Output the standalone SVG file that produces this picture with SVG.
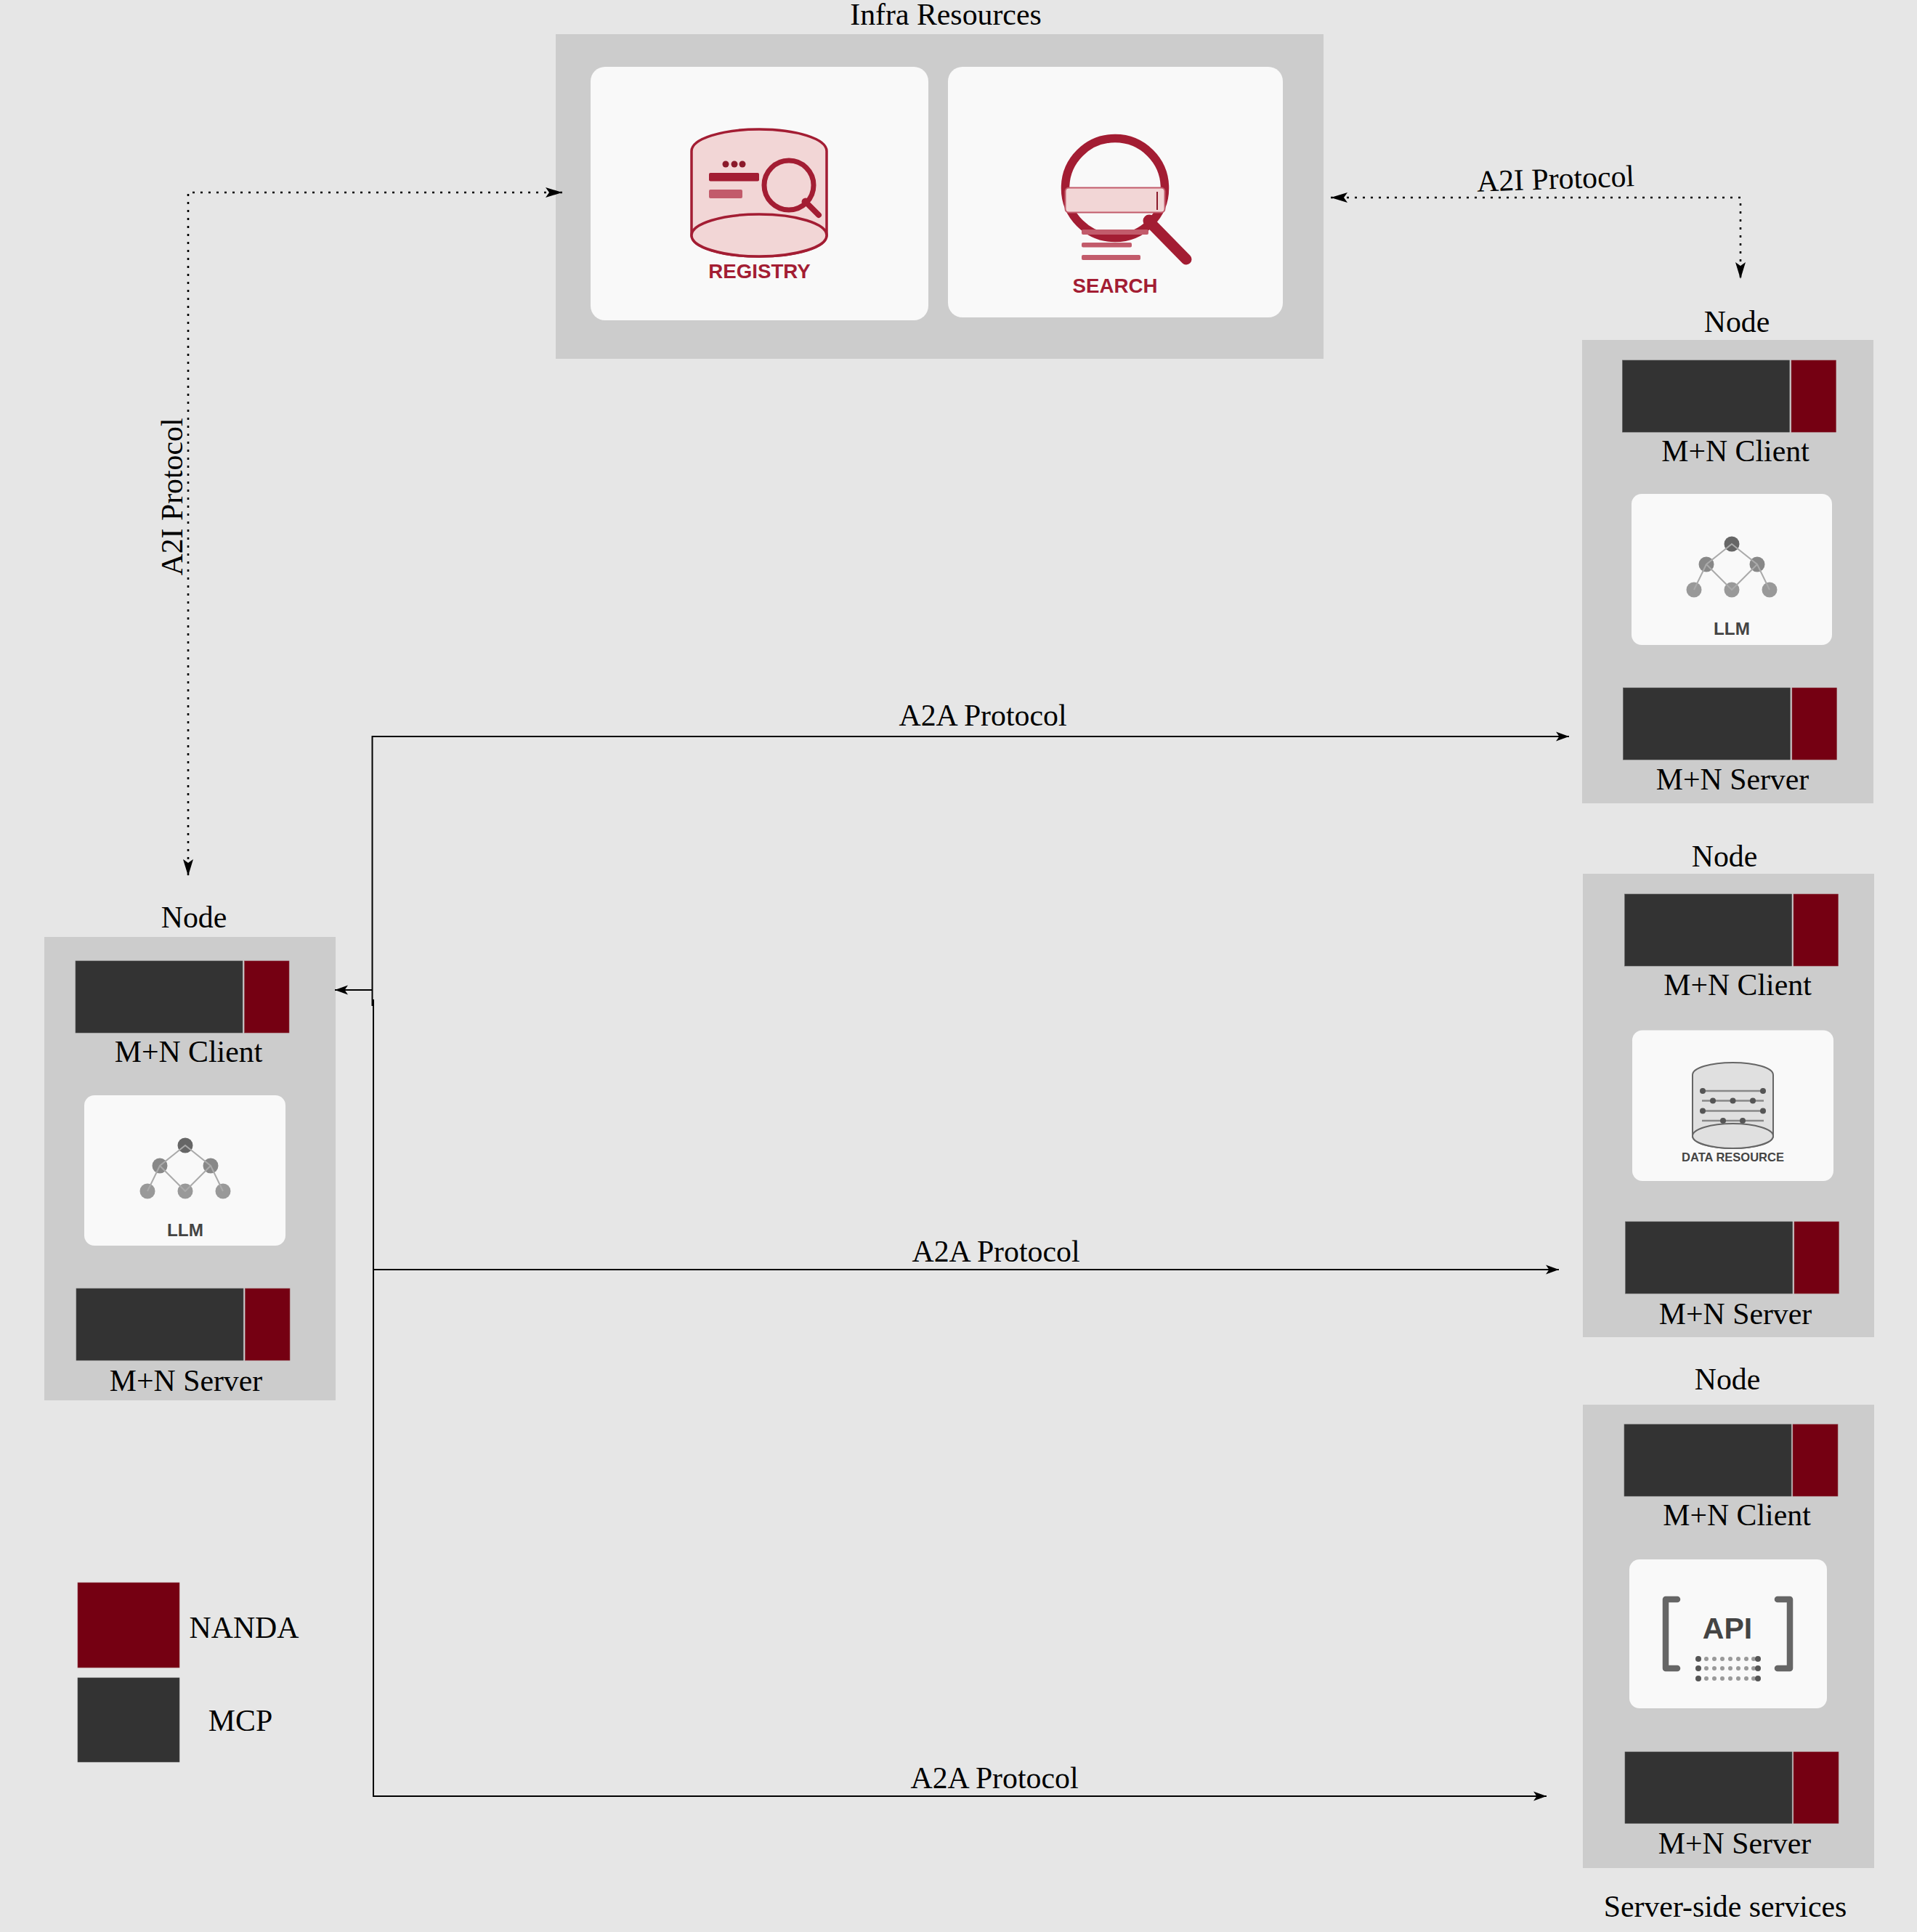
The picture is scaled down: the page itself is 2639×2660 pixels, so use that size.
<svg xmlns="http://www.w3.org/2000/svg" xmlns:xlink="http://www.w3.org/1999/xlink" width="2639" height="2660" viewBox="0 0 2639 2660">
<style>
.panel{fill:#cccccc}
.card{fill:#f9f9f9}
.mcp{fill:#333333;stroke:#555;stroke-width:.6}
.nanda{fill:#750012;stroke:#8d3a45;stroke-width:.6}
.t{font-family:"Liberation Serif","Times New Roman",serif;font-size:41.8px;fill:#000;text-anchor:middle}
.b{font-family:"Liberation Sans",Arial,sans-serif;font-weight:700;text-anchor:middle}
.red{fill:#a31d33}
.pink{fill:#c25b6b}
.rl{fill:none;stroke:#a31d33;stroke-linecap:round}
.cyl{fill:#f2d6d6;stroke:#a31d33;stroke-width:3.5}
.g{fill:#444}
.conn{fill:none;stroke:#000;stroke-width:2}
.dot{fill:none;stroke:#000;stroke-width:2.6;stroke-dasharray:3 8}
</style>
<defs>
<marker id="arr" markerUnits="userSpaceOnUse" markerWidth="20" markerHeight="14" refX="18" refY="7" orient="auto-start-reverse"><path d="M18,7 L0,0.5 L4.5,7 L0,13.5 z" fill="#000"/></marker>
<marker id="arrd" markerUnits="userSpaceOnUse" markerWidth="24" markerHeight="16" refX="23" refY="8" orient="auto-start-reverse"><path d="M23,8 L0,1 L5,8 L0,15 z" fill="#000"/></marker>
<g id="llm-icon">
<circle cx="0" cy="0" r="10.5" fill="#666"/>
<circle cx="-35" cy="28" r="10.5" fill="#888"/>
<circle cx="35" cy="28" r="10.5" fill="#888"/>
<circle cx="-52" cy="63" r="10.5" fill="#999"/>
<circle cx="0" cy="63" r="10.5" fill="#999"/>
<circle cx="52" cy="63" r="10.5" fill="#999"/>
<path d="M-52,63 L-35,28 L0,0 L35,28 L52,63 M-35,28 L0,63 L35,28" fill="none" stroke="#aaa" stroke-width="2"/>
</g>
</defs>
<rect width="2639" height="2660" fill="#e6e6e6"/>

<g id="infra">
<rect class="panel" x="765" y="47" width="1057" height="447"/>
<text class="t" x="1302" y="34">Infra Resources</text>
<g id="registry">
<rect class="card" x="813" y="92" width="465" height="349" rx="20"/>
<path class="cyl" d="M952,208 C952,191 994,178 1045,178 C1096,178 1138,191 1138,208 V324 C1138,341 1096,353 1045,353 C994,353 952,341 952,324 Z"/>
<ellipse class="cyl" cx="1045" cy="324" rx="93" ry="29"/>
<circle cx="999" cy="226" r="4.5" fill="#8b1a2b"/><circle cx="1011" cy="226" r="4.5" fill="#8b1a2b"/><circle cx="1022" cy="226" r="4.5" fill="#8b1a2b"/>
<rect class="red" x="976" y="238" width="69" height="11.5" rx="2"/>
<rect class="pink" x="976" y="261" width="46" height="12" rx="2"/>
<circle cx="1086" cy="255" r="34" fill="none" stroke="#a31d33" stroke-width="7"/>
<path class="rl" stroke-width="8" d="M1109,278 L1127,296"/>
<circle class="red" cx="1109" cy="278" r="5.5"/>
<text class="b" x="1045.5" y="383" font-size="27.7" fill="#a31d33">REGISTRY</text>
</g>
<g id="search">
<rect class="card" x="1305" y="92" width="461" height="345" rx="20"/>
<circle cx="1535" cy="259" r="68.5" fill="none" stroke="#a31d33" stroke-width="11.5"/>
<rect x="1466.5" y="258.5" width="137" height="34" rx="5" fill="#f2d6d6" stroke="#c25b6b" stroke-width="2"/>
<path d="M1593,264 V289" stroke="#8b1a2b" stroke-width="2" fill="none"/>
<path class="rl" stroke-width="15" d="M1582,305 L1633,357"/>
<circle class="red" cx="1582" cy="304" r="8.5"/>
<rect class="pink" x="1489" y="316" width="92" height="7" rx="2"/>
<rect class="pink" x="1489" y="334" width="69" height="6.5" rx="2"/>
<rect class="pink" x="1489" y="351" width="81" height="7" rx="2"/>
<text class="b" x="1535" y="403" font-size="27.7" fill="#a31d33">SEARCH</text>
</g>
</g>

<g id="node-left">
<text class="t" x="267" y="1277">Node</text>
<rect class="panel" x="61" y="1290" width="401" height="638"/>
<rect class="mcp" x="104" y="1323" width="230" height="99"/><rect class="nanda" x="336.5" y="1323" width="61.5" height="99"/>
<text class="t" x="259.5" y="1462">M+N Client</text>
<rect class="card" x="116" y="1508" width="277" height="207" rx="14"/>
<use href="#llm-icon" x="255" y="1577"/>
<text class="b g" x="255" y="1702" font-size="24.3">LLM</text>
<rect class="mcp" x="105" y="1774" width="230" height="99"/><rect class="nanda" x="337.5" y="1774" width="61.5" height="99"/>
<text class="t" x="256" y="1915">M+N Server</text>
</g>

<g id="node-llm">
<text class="t" x="2391" y="457">Node</text>
<rect class="panel" x="2178" y="468" width="401" height="638"/>
<rect class="mcp" x="2233.5" y="496" width="230" height="99"/><rect class="nanda" x="2466" y="496" width="61.5" height="99"/>
<text class="t" x="2389" y="635">M+N Client</text>
<rect class="card" x="2246" y="680" width="276" height="208" rx="14"/>
<use href="#llm-icon" x="2384" y="749"/>
<text class="b g" x="2384" y="874" font-size="24.3">LLM</text>
<rect class="mcp" x="2234.5" y="947" width="230" height="99"/><rect class="nanda" x="2467" y="947" width="61.5" height="99"/>
<text class="t" x="2385" y="1087">M+N Server</text>
</g>

<g id="node-data">
<text class="t" x="2374" y="1193">Node</text>
<rect class="panel" x="2179" y="1203" width="401" height="638"/>
<rect class="mcp" x="2236.7" y="1231" width="230" height="99"/><rect class="nanda" x="2469" y="1231" width="61.5" height="99"/>
<text class="t" x="2392" y="1370">M+N Client</text>
<rect class="card" x="2247" y="1418.5" width="277" height="207.5" rx="14"/>
<path d="M2330,1480 C2330,1470 2355,1463 2385.5,1463 C2416,1463 2441,1470 2441,1480 V1564 C2441,1574 2416,1581 2385.5,1581 C2355,1581 2330,1574 2330,1564 Z" fill="#e0e0e0" stroke="#666" stroke-width="2"/>
<g stroke="#888" stroke-width="2.5" fill="none"><path d="M2344,1502 H2427 M2343,1515.5 H2428 M2344,1529.5 H2427 M2343,1543 H2428"/></g>
<g fill="#555"><circle cx="2344" cy="1502" r="4"/><circle cx="2427" cy="1502" r="4"/><circle cx="2358" cy="1515.5" r="4"/><circle cx="2385.5" cy="1515.5" r="4"/><circle cx="2413" cy="1515.5" r="4"/><circle cx="2344" cy="1529.5" r="4"/><circle cx="2427" cy="1529.5" r="4"/><circle cx="2372" cy="1543" r="4"/><circle cx="2399" cy="1543" r="4"/></g>
<ellipse cx="2385.5" cy="1564" rx="55.5" ry="17" fill="#e0e0e0" stroke="#666" stroke-width="2"/>
<text class="b g" x="2385.5" y="1599" font-size="16.5">DATA RESOURCE</text>
<rect class="mcp" x="2237.7" y="1682" width="230" height="99"/><rect class="nanda" x="2470" y="1682" width="61.5" height="99"/>
<text class="t" x="2389" y="1823">M+N Server</text>
</g>

<g id="node-api">
<text class="t" x="2378" y="1912.5">Node</text>
<rect class="panel" x="2179" y="1934" width="401" height="638"/>
<rect class="mcp" x="2236" y="1961" width="230" height="99"/><rect class="nanda" x="2468" y="1961" width="62" height="99"/>
<text class="t" x="2391" y="2100">M+N Client</text>
<rect class="card" x="2243" y="2147" width="272" height="205" rx="14"/>
<path d="M2309,2202 H2293 V2297 H2309 M2447,2202 H2464 V2297 H2447" fill="none" stroke="#666" stroke-width="8.5" stroke-linecap="round" stroke-linejoin="round"/>
<text class="b g" x="2378" y="2256" font-size="41">API</text>
<g fill="#999"><circle cx="2349" cy="2284" r="3"/><circle cx="2360" cy="2284" r="3"/><circle cx="2371" cy="2284" r="3"/><circle cx="2382" cy="2284" r="3"/><circle cx="2393" cy="2284" r="3"/><circle cx="2404" cy="2284" r="3"/><circle cx="2414" cy="2284" r="3"/>
<circle cx="2349" cy="2297" r="3"/><circle cx="2360" cy="2297" r="3"/><circle cx="2371" cy="2297" r="3"/><circle cx="2382" cy="2297" r="3"/><circle cx="2393" cy="2297" r="3"/><circle cx="2404" cy="2297" r="3"/><circle cx="2414" cy="2297" r="3"/>
<circle cx="2349" cy="2311" r="3"/><circle cx="2360" cy="2311" r="3"/><circle cx="2371" cy="2311" r="3"/><circle cx="2382" cy="2311" r="3"/><circle cx="2393" cy="2311" r="3"/><circle cx="2404" cy="2311" r="3"/><circle cx="2414" cy="2311" r="3"/></g>
<g fill="#555"><circle cx="2338" cy="2284" r="4"/><circle cx="2420" cy="2284" r="4"/><circle cx="2338" cy="2297" r="4"/><circle cx="2420" cy="2297" r="4"/><circle cx="2338" cy="2311" r="4"/><circle cx="2420" cy="2311" r="4"/></g>
<rect class="mcp" x="2237" y="2412" width="230" height="98.5"/><rect class="nanda" x="2469" y="2412" width="62" height="98.5"/>
<text class="t" x="2388" y="2552">M+N Server</text>
<text class="t" x="2375" y="2639">Server-side services</text>
</g>

<g id="legend">
<rect class="nanda" x="107" y="2179" width="140" height="117"/>
<text class="t" x="336" y="2255">NANDA</text>
<rect class="mcp" x="107" y="2310" width="140" height="116"/>
<text class="t" x="331" y="2383">MCP</text>
</g>

<g id="connectors">
<path class="dot" d="M774,265 H259 V1206" marker-start="url(#arrd)" marker-end="url(#arrd)"/>
<path class="dot" d="M1832,272 H2396 V384" marker-start="url(#arrd)" marker-end="url(#arrd)"/>
<path class="conn" d="M2160,1014 H512.5 V1385" marker-start="url(#arr)"/>
<path class="conn" d="M512.5,1363 H461" marker-end="url(#arr)"/>
<path class="conn" d="M514,1376 V2473 H2129" marker-end="url(#arr)"/>
<path class="conn" d="M514,1748 H2146" marker-end="url(#arr)"/>
<text class="t" x="1353" y="999">A2A Protocol</text>
<text class="t" x="1371" y="1737">A2A Protocol</text>
<text class="t" x="1369" y="2462">A2A Protocol</text>
<text class="t" transform="translate(2142,260) rotate(-2)">A2I Protocol</text>
<text class="t" transform="translate(251,684) rotate(-90)">A2I Protocol</text>
</g>
</svg>
